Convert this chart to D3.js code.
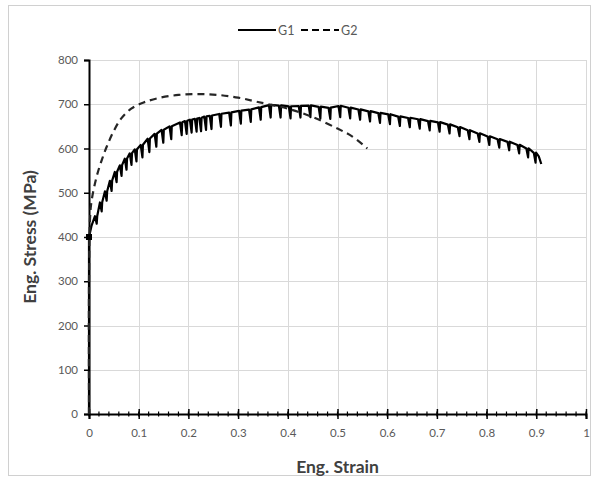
<!DOCTYPE html>
<html>
<head>
<meta charset="utf-8">
<script src="https://cdn.jsdelivr.net/npm/d3@7"></script>
<style>
  html, body { margin: 0; padding: 0; background: #fff; }
  svg { display: block; }
</style>
</head>
<body>
<div id="chart"></div>
<script>
// ---- Data ----
const xTicks = [0, 0.1, 0.2, 0.3, 0.4, 0.5, 0.6, 0.7, 0.8, 0.9, 1];
const yTicks = [0, 100, 200, 300, 400, 500, 600, 700, 800];
const seriesNames = ["G1", "G2"];

// G1: elastic part, then serrated (unload/reload) teeth along the envelope
const g1StartStrain = [0, 0.000, 0.005];
const g1StartStress = [0, 400, 425];
const g1ToothStrain = [0.012, 0.022, 0.032, 0.042, 0.052, 0.062, 0.072, 0.082, 0.092, 0.104,
  0.118, 0.132, 0.146, 0.162, 0.183, 0.193, 0.203, 0.213, 0.222, 0.232, 0.243, 0.262, 0.282,
  0.302, 0.322, 0.342, 0.362, 0.382, 0.402, 0.422, 0.442, 0.462, 0.482, 0.502, 0.522,
  0.542, 0.562, 0.582, 0.602, 0.622, 0.642, 0.662, 0.682, 0.702, 0.722, 0.742, 0.762,
  0.782, 0.802, 0.822, 0.842, 0.862, 0.880, 0.895];
const g1ToothPeak = [447, 478, 503, 527, 547, 562, 577, 589, 598, 608,
  622, 633, 642, 650, 659, 662, 665, 667, 669, 672, 674, 678, 681,
  685, 688, 693, 698, 697, 695, 696, 697, 694, 692, 696, 692,
  688, 684, 680, 677, 672, 669, 666, 662, 659, 654, 648, 641,
  634, 627, 621, 615, 608, 600, 590];
const g1ToothValley = [430, 458, 482, 504, 524, 538, 552, 563, 571, 580,
  592, 604, 613, 621, 630, 633, 636, 638, 639, 642, 644, 649, 652,
  656, 660, 665, 670, 670, 668, 670, 671, 668, 667, 671, 668,
  665, 661, 658, 655, 651, 648, 645, 641, 638, 634, 628, 621,
  615, 608, 602, 596, 589, 580, 568];
const g1EndStrain = [0.905, 0.910];
const g1EndStress = [582, 565];

// G2: smooth curve (dashed)
const g2Strain = [0, 0.000, 0.002, 0.005, 0.015, 0.026, 0.036, 0.05, 0.065, 0.085, 0.11, 0.14,
  0.18, 0.22, 0.26, 0.30, 0.34, 0.40, 0.45, 0.50, 0.53, 0.56];
const g2Stress = [0, 300, 440, 480, 535, 575, 605, 640, 668, 690, 704, 714,
  721, 723, 721, 715, 705, 690, 671, 645, 627, 600];

// ---- Layout ----
const W = 597, H = 483;
const margin = { left: 89, right: 11, top: 60, bottom: 69 };
const svg = d3.select("#chart").append("svg").attr("width", W).attr("height", H);

// outer chart border
svg.append("rect").attr("x", 8.5).attr("y", 5.5).attr("width", 582).attr("height", 470)
  .attr("fill", "#fff").attr("stroke", "#d0d0d0").attr("stroke-width", 1);

const x = d3.scaleLinear().domain([0, 1]).range([margin.left, W - margin.right]);
const y = d3.scaleLinear().domain([0, 800]).range([H - margin.bottom, margin.top]);

const font = "Lato, 'Open Sans', sans-serif";

// gridlines
const grid = svg.append("g");
grid.selectAll("line.v").data(xTicks.slice(1)).join("line")
  .attr("x1", d => Math.round(x(d)) + 0.5).attr("x2", d => Math.round(x(d)) + 0.5)
  .attr("y1", y(800)).attr("y2", y(0))
  .attr("stroke", "#d9d9d9").attr("stroke-width", 1);
grid.selectAll("line.h").data(yTicks.slice(1)).join("line")
  .attr("x1", x(0)).attr("x2", x(1))
  .attr("y1", d => Math.round(y(d)) + 0.5).attr("y2", d => Math.round(y(d)) + 0.5)
  .attr("stroke", "#d9d9d9").attr("stroke-width", 1);

// y axis
const yAxis = d3.axisLeft(y).tickValues(yTicks).tickSize(5).tickPadding(6);
const gy = svg.append("g").attr("transform", `translate(${x(0)},0)`).call(yAxis);
gy.select(".domain").attr("stroke", "#000").attr("stroke-width", 2);
gy.selectAll(".tick line").attr("stroke", "#000").attr("stroke-width", 1.5);
gy.selectAll(".tick text").attr("fill", "#595959").style("font-family", font).style("font-size", "11.5px");

// x axis with minor ticks crossing the axis
const minorTicks = d3.range(0, 51).map(i => i / 50);
const gxMinor = svg.append("g").attr("transform", `translate(0,${y(0)})`);
gxMinor.selectAll("line").data(minorTicks).join("line")
  .attr("x1", d => x(d)).attr("x2", d => x(d)).attr("y1", -2.5).attr("y2", 2.5)
  .attr("stroke", "#000").attr("stroke-width", 1.2);
const xAxis = d3.axisBottom(x).tickValues(xTicks).tickFormat(d3.format("")).tickSize(5).tickPadding(10);
const gx = svg.append("g").attr("transform", `translate(0,${y(0)})`).call(xAxis);
gx.select(".domain").attr("stroke", "#000").attr("stroke-width", 2);
gx.selectAll(".tick line").attr("y1", -5).attr("stroke", "#000").attr("stroke-width", 1.5);
gx.selectAll(".tick text").attr("fill", "#595959").style("font-family", font).style("font-size", "11.5px");

// axis titles
svg.append("text").attr("x", (x(0) + x(1)) / 2).attr("y", 473).attr("text-anchor", "middle")
  .style("font-family", font).style("font-weight", "bold").style("font-size", "17.5px")
  .attr("fill", "#404040").text("Eng. Strain");
svg.append("text").attr("transform", `translate(36,${y(400)}) rotate(-90)`).attr("text-anchor", "middle")
  .style("font-family", font).style("font-weight", "bold").style("font-size", "17.5px")
  .attr("fill", "#404040").text("Eng. Stress (MPa)");

// ---- G1 path with serrations ----
const dropShift = 0.0035; // strain offset of each stress-drop trough
const g1Pts = [];
g1StartStrain.forEach((s, i) => g1Pts.push([s, g1StartStress[i]]));
g1ToothStrain.forEach((s, i) => {
  g1Pts.push([s, g1ToothPeak[i]]);
  g1Pts.push([s + dropShift, g1ToothValley[i]]);
  g1Pts.push([s + dropShift * 1.3, g1ToothPeak[i] + 0.5]);
});
g1EndStrain.forEach((s, i) => g1Pts.push([s, g1EndStress[i]]));

const line = d3.line().x(d => x(d[0])).y(d => y(d[1]));
svg.append("path").datum(g1Pts).attr("d", line)
  .attr("fill", "none").attr("stroke", "#000").attr("stroke-width", 2.2)
  .attr("stroke-linejoin", "round");

// ---- G2 dashed ----
const g2Pts = g2Strain.map((s, i) => [s, g2Stress[i]]);
svg.append("path").datum(g2Pts)
  .attr("d", d3.line().curve(d3.curveCatmullRom.alpha(0.5)).x(d => x(d[0])).y(d => y(d[1])))
  .attr("fill", "none").attr("stroke", "#262626").attr("stroke-width", 2.2)
  .attr("stroke-dasharray", "7,5");

// marker at yield start
svg.append("rect").attr("x", x(0) - 3).attr("y", y(400) - 3).attr("width", 6).attr("height", 6).attr("fill", "#000");

// ---- legend ----
const legend = svg.append("g").attr("transform", "translate(0,30)");
const legItems = [
  { name: seriesNames[0], x0: 238, dash: null },
  { name: seriesNames[1], x0: 301, dash: "7,4" }
];
legItems.forEach(it => {
  legend.append("line").attr("x1", it.x0).attr("x2", it.x0 + 38).attr("y1", 0).attr("y2", 0)
    .attr("stroke", "#000").attr("stroke-width", 2).attr("stroke-dasharray", it.dash);
  legend.append("text").attr("x", it.x0 + 40).attr("y", 4.5)
    .style("font-family", font).style("font-size", "12.5px").attr("fill", "#595959").text(it.name);
});
</script>
</body>
</html>
